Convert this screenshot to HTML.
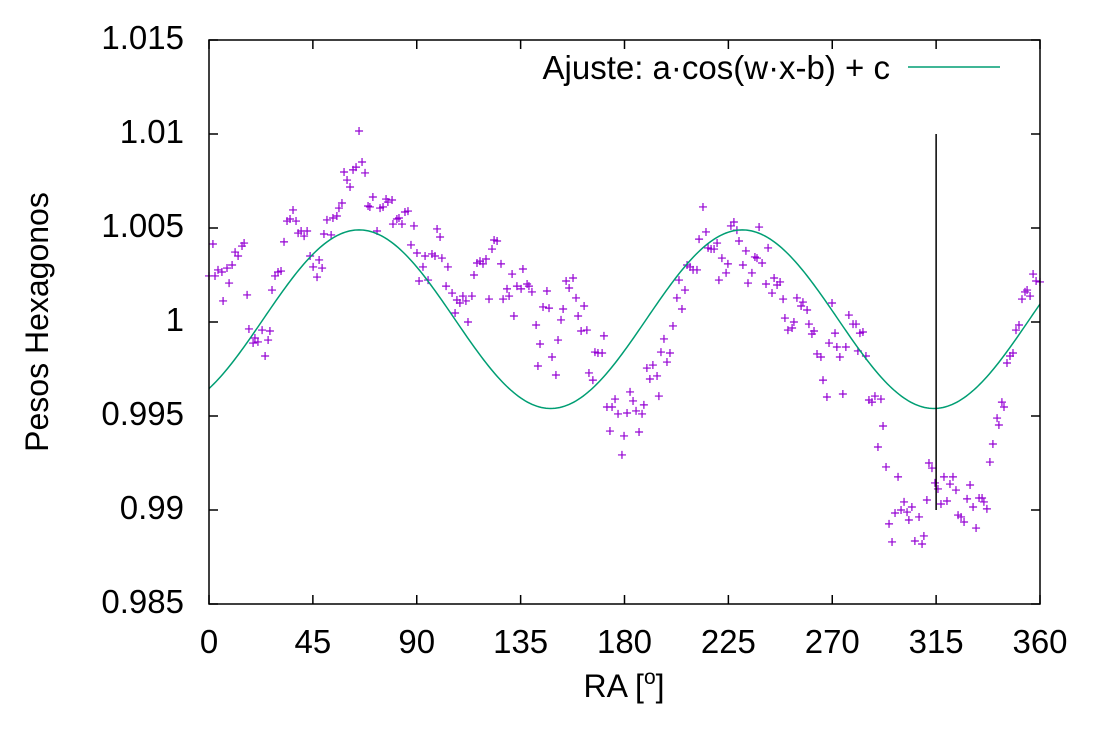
<!DOCTYPE html>
<html><head><meta charset="utf-8"><style>
html,body{margin:0;padding:0;background:#fff;}
svg{display:block;font-family:"Liberation Sans",sans-serif;}
</style></head><body>
<svg id="chart" width="1100" height="750" viewBox="0 0 1100 750" xmlns="http://www.w3.org/2000/svg">
<rect width="1100" height="750" fill="#fff"/>
<g id="points"></g>
<g id="fit"></g>
<g id="axes"></g>
<text transform="translate(48,322) rotate(-90)" text-anchor="middle" font-size="32">Pesos Hexagonos</text>
<text x="624" y="697" text-anchor="middle" font-size="32">RA [<tspan font-size="21" dy="-13">o</tspan><tspan dy="13">]</tspan></text>
<g>
<text x="890" y="79" text-anchor="end" font-size="33">Ajuste: a·cos(w·x-b) + c</text>
<line x1="908" y1="67" x2="1000" y2="67" stroke="#009e73" stroke-width="1.5"/>
</g>
</svg>
<script>
// RA in degrees
const ra = [1.7,0,2.6,3.9,5.6,7.8,10.0,8.7,6.1,11.3,12.6,14.3,15.2,16.5,17.3,19.1,19.9,21.2,23.0,24.3,25.6,26.4,27.3,28.6,29.9,31.2,32.5,33.8,35.1,36.4,37.7,38.6,39.9,41.2,42.5,43.8,45.1,46.8,47.7,49.0,49.8,51.1,52.9,53.7,55.4,56.3,57.6,58.5,59.8,61.1,62.4,63.7,65.0,66.3,67.6,68.9,69.7,71.0,72.8,74.1,75.4,76.7,77.5,79.3,79.7,81.4,82.3,83.6,84.9,86.2,88.8,87.5,90.1,92.7,91.0,93.6,94.9,96.6,97.9,98.8,100.1,100.9,102.7,103.5,105.3,106.6,107.4,108.7,110.0,111.3,112.2,113.9,114.8,116.1,117.4,118.7,120.0,121.3,122.6,123.5,124.8,126.5,127.4,129.1,130.0,131.3,132.1,133.4,135.2,136.0,137.8,138.6,139.9,141.7,142.5,143.4,144.7,146.4,147.3,148.6,150.3,151.2,152.5,153.4,154.7,156.0,157.7,159.0,159.9,161.2,162.5,163.7,164.6,166.3,167.2,168.5,170.3,171.1,172.4,173.7,174.6,175.9,177.2,178.9,179.8,181.1,182.4,183.7,185.0,186.3,187.6,188.4,189.7,191.0,192.3,194.1,194.9,195.8,197.1,198.4,199.7,201.0,202.7,203.6,204.9,206.2,207.1,208.4,209.7,211.4,212.3,214.0,215.3,216.2,217.5,218.8,220.1,220.9,222.2,224.0,224.8,226.1,227.4,228.7,229.6,231.3,232.6,233.5,235.2,236.5,237.4,238.3,239.6,241.3,242.2,243.9,244.8,246.1,247.4,248.7,249.5,250.8,252.6,253.4,254.7,256.5,257.3,259.1,259.9,261.2,262.1,263.4,265.1,266.0,267.7,268.6,269.9,271.2,272.0,273.3,274.6,275.9,277.2,279.0,280.3,281.1,282.0,283.3,284.6,285.9,287.2,288.5,291.1,292.0,289.8,293.3,294.6,295.9,297.2,298.5,299.8,301.1,302.4,303.2,304.5,305.8,307.6,308.9,309.7,311.0,311.9,313.2,314.5,315.8,317.1,318.4,319.7,321.0,322.3,323.6,324.5,325.8,327.1,328.4,329.7,331.0,332.3,333.6,334.9,335.7,337.0,338.3,339.6,341.4,342.2,343.5,344.4,345.7,347.0,348.3,349.6,350.9,352.2,353.5,354.4,355.7,357.0,358.3,360];
// (peso - 1) * 1000
const pesoDev = [4.15,2.45,2.45,2.77,2.66,2.87,3.03,2.07,1.12,3.72,3.51,4.04,4.20,1.44,-0.37,-1.12,-0.85,-1.06,-0.43,-1.81,-0.96,-0.48,1.70,2.45,2.66,2.71,4.26,5.37,5.48,5.96,5.37,4.73,4.84,4.57,4.84,3.51,2.93,2.39,3.30,2.87,4.68,5.43,4.63,5.53,5.64,6.06,6.33,7.98,7.55,7.18,8.09,8.24,10.16,8.51,7.93,6.17,6.12,6.65,4.84,6.06,6.12,6.54,6.38,6.49,5.21,5.48,5.53,5.21,5.85,5.90,5.11,4.10,3.67,2.93,2.18,3.51,2.23,3.62,3.51,4.95,4.52,3.40,1.91,2.93,1.54,0.48,1.17,1.01,1.38,1.12,0,1.38,2.50,3.14,3.24,3.09,3.35,1.22,3.88,4.36,4.31,3.09,1.22,1.76,1.38,2.55,0.32,1.91,1.76,2.82,2.02,1.91,1.60,-0.16,-2.34,-1.17,0.80,1.65,0.74,-1.86,-2.82,-0.96,0.11,0.69,2.18,1.81,2.34,1.28,0.32,-0.48,0.85,-0.43,-2.71,-3.09,-1.60,-1.65,-1.65,-0.74,-4.52,-5.80,-4.52,-4.10,-4.89,-7.07,-6.06,-4.84,-3.72,-4.20,-4.73,-5.85,-4.89,-4.41,-2.45,-3.03,-2.29,-2.87,-3.94,-1.60,-0.90,-2.13,-1.65,-0.21,1.28,2.23,0.69,1.70,3.03,2.93,2.77,2.77,4.41,6.12,4.79,3.94,3.88,3.88,4.20,2.23,3.40,2.61,3.09,5.11,5.32,4.89,4.31,3.03,3.78,2.07,2.61,3.46,3.40,5.05,3.14,2.02,3.94,1.54,2.34,1.97,2.13,1.22,0.21,-0.43,-0.32,0,1.28,0.85,1.06,0.64,-0.11,-0.64,-0.48,-1.70,-1.86,-3.09,-3.99,-1.12,1.01,-0.59,-1.33,-1.86,-3.83,-1.33,0.37,-0.11,-0.11,-1.54,-0.59,-0.53,-1.81,-4.15,-4.26,-3.94,-4.10,-5.53,-6.65,-7.71,-10.74,-11.70,-10.16,-8.24,-10.00,-9.57,-10.11,-10.53,-9.84,-11.65,-10.37,-11.81,-11.38,-9.47,-7.50,-7.77,-8.56,-8.88,-9.68,-8.24,-9.52,-8.62,-8.24,-8.94,-10.27,-10.37,-10.64,-9.41,-8.67,-9.84,-10.96,-9.36,-9.36,-9.57,-9.94,-7.45,-6.49,-5.11,-5.48,-4.26,-4.52,-2.18,-1.81,-1.65,-0.43,-0.16,1.22,1.60,1.70,1.38,2.55,2.18,2.13];
const xTicks = [0,45,90,135,180,225,270,315,360];
const yTicks = [0.985,0.99,0.995,1.0,1.005,1.01,1.015];
const yTickLabels = ["0.985","0.99","0.995","1","1.005","1.01","1.015"];
// fit: a*cos(w*x - b) + c (w in rad/deg)
const fitA = [0.00475];
const fitPeriodDeg = [166];
const fitPeakDeg = [65];
const fitC = [1.00015];
// error bar at RA 315
const barRA = [315];
const barLow = [0.990];
const barHigh = [1.010];

const NS = "http://www.w3.org/2000/svg";
const L = 209, R = 1040, T = 40, B = 604;
const xMin = 0, xMax = 360, yMin = 0.985, yMax = 1.015;
const sx = v => L + (v - xMin) / (xMax - xMin) * (R - L);
const sy = v => B - (v - yMin) / (yMax - yMin) * (B - T);
function mk(tag, attrs, parent) {
  const e = document.createElementNS(NS, tag);
  for (const k in attrs) e.setAttribute(k, attrs[k]);
  parent.appendChild(e);
  return e;
}
const gp = document.getElementById('points');
for (let i = 0; i < ra.length; i++) {
  const x = sx(ra[i]), y = sy(1 + pesoDev[i] / 1000);
  const p = mk('path', {d: `M${x-4},${y}H${x+4}M${x},${y-4}V${y+4}`, stroke: '#9400d3', 'stroke-width': 1.2, fill: 'none'}, gp);
  
  
}
const gf = document.getElementById('fit');
const w = 2 * Math.PI / fitPeriodDeg[0], b = w * fitPeakDeg[0];
let d = '';
for (let x = 0; x <= 360; x += 1) {
  const v = fitA[0] * Math.cos(w * x - b) + fitC[0];
  d += (x ? 'L' : 'M') + sx(x).toFixed(2) + ',' + sy(v).toFixed(2);
}
const fl = mk('path', {d: d, stroke: '#009e73', 'stroke-width': 1.5, fill: 'none'}, gf);


const ga = document.getElementById('axes');
const eb = mk('line', {x1: sx(barRA[0]), x2: sx(barRA[0]), y1: sy(barHigh[0]), y2: sy(barLow[0]), stroke: '#000', 'stroke-width': 1.5}, ga);


const fr = mk('rect', {x: L, y: T, width: R - L, height: B - T, fill: 'none', stroke: '#000', 'stroke-width': 1.5}, ga);


xTicks.forEach(t => {
  const x = sx(t);
  const tk = mk('path', {d: `M${x},${B}V${B-9}M${x},${T}V${T+9}`, stroke: '#000', 'stroke-width': 1.5}, ga);
  
  
  const lb = mk('text', {x: x, y: 653, 'text-anchor': 'middle', 'font-size': 33}, ga);
  
  
  lb.textContent = String(t);
});
yTicks.forEach((t, i) => {
  const y = sy(t);
  const tk = mk('path', {d: `M${L},${y}H${L+9}M${R},${y}H${R-9}`, stroke: '#000', 'stroke-width': 1.5}, ga);
  
  
  const lb = mk('text', {x: 184, y: y + 9, 'text-anchor': 'end', 'font-size': 33}, ga);
  
  
  lb.textContent = yTickLabels[i];
});
</script>
</body></html>
